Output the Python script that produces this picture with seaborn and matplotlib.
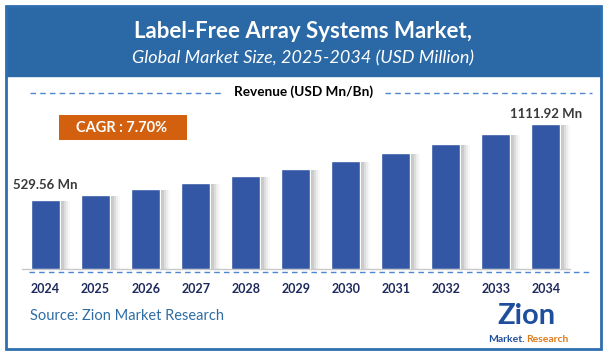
import matplotlib
matplotlib.use("Agg")
import matplotlib.pyplot as plt
from matplotlib.patches import Rectangle
from matplotlib.lines import Line2D
import seaborn as sns
import pandas as pd

# dane
years = ["2024", "2025", "2026", "2027", "2028", "2029", "2030", "2031", "2032", "2033", "2034"]
revenue = [529.56, 570.3, 614.3, 661.6, 712.5, 767.4, 826.5, 890.1, 958.6, 1032.5, 1111.92]
first_label = "529.56 Mn"
last_label = "1111.92 Mn"
cagr_text = "CAGR : 7.70%"

df = pd.DataFrame({"Year": years, "Revenue": revenue})

sns.set_theme(style="white")
plt.rcParams["font.family"] = ["Lato", "DejaVu Sans"]

W, H = 606, 357
fig = plt.figure(figsize=(W / 100, H / 100), dpi=100)
fig.patch.set_facecolor("white")

def fx(px):
    return px / W

def fy(py):
    return 1 - py / H

# ramka i nagłówek
fig.patches.append(Rectangle((fx(6), fy(349)), fx(595), 343 / H, transform=fig.transFigure,
                             facecolor="none", edgecolor="#2E6EB0", linewidth=2, zorder=5))
fig.patches.append(Rectangle((fx(6), fy(76)), fx(595), 70 / H, transform=fig.transFigure,
                             facecolor="#2B69A6", edgecolor="#2B69A6", linewidth=1, zorder=1))
fig.text(0.5, fy(31), "Label-Free Array Systems Market,", ha="center", va="center",
         color="white", fontsize=16, fontweight="bold")
fig.text(0.5, fy(58), "Global Market Size, 2025-2034 (USD Million)", ha="center", va="center",
         color="white", fontsize=13, style="italic")

ax = fig.add_axes([fx(22), fy(269), fx(570) - fx(22), (269 - 100) / H])
ax.set_facecolor("none")
sns.barplot(data=df, x="Year", y="Revenue", order=years, color="#3356A5", saturation=1,
            width=0.58, ax=ax, zorder=3)

# cień za słupkami
for p in list(ax.patches):
    x0 = p.get_x() + p.get_width()
    h = p.get_height()
    for i, a in enumerate([0.4, 0.3, 0.2, 0.1, 0.04]):
        ax.add_patch(Rectangle((x0 + i * 0.04, 0), 0.04, h - 8, facecolor="#555555",
                               alpha=a, edgecolor="none", zorder=2))

ax.set_xlim(-0.47, 10.48)
ax.set_ylim(0, 1296)
ax.set_xlabel("")
ax.set_ylabel("")
ax.set_yticks([])
for s in ["top", "left", "right"]:
    ax.spines[s].set_visible(False)
ax.spines["bottom"].set_color("#C8C8C8")
ax.spines["bottom"].set_linewidth(1)
ax.tick_params(axis="x", length=0, pad=10)
for t in ax.get_xticklabels():
    t.set_fontweight("bold")
    t.set_color("#1F2A5C")
    t.set_fontsize(9)

ax.text(0, revenue[0] + 70, first_label, ha="center", va="bottom", fontsize=9.5,
        fontweight="bold", color="#3A3A3A")
ax.text(10, revenue[-1] + 30, last_label, ha="center", va="bottom", fontsize=9.5,
        fontweight="bold", color="#3A3A3A")

# linie przerywane
dash_kw = dict(transform=fig.transFigure, color="#4F86D0", linewidth=1, linestyle=(0, (4, 3)), zorder=4)
fig.lines.append(Line2D([fx(30), fx(223)], [fy(93), fy(93)], **dash_kw))
fig.lines.append(Line2D([fx(385), fx(592)], [fy(93), fy(93)], **dash_kw))
fig.lines.append(Line2D([fx(29), fx(592)], [fy(271.5), fy(271.5)], **dash_kw))
fig.text(fx(304), fy(92), "Revenue (USD Mn/Bn)", ha="center", va="center", fontsize=9.8,
         fontweight="bold", color="black")

# CAGR
fig.patches.append(Rectangle((fx(59), fy(140)), fx(187) - fx(59), 25 / H, transform=fig.transFigure,
                             facecolor="#D2600F", edgecolor="none", zorder=2))
fig.text(fx(122), fy(128), cagr_text, ha="center", va="center", fontsize=10.5,
         fontweight="bold", color="white", zorder=3)

fig.text(fx(30), fy(316), "Source: Zion Market Research", ha="left", va="center",
         fontsize=10.5, color="#2E6DA4")

# logo
fig.text(fx(526), fy(316), "Zion", ha="center", va="center", fontsize=21, fontweight="bold",
         color="#1F4F9C")
fig.text(fx(525), fy(340), "Market.", ha="right", va="center", fontsize=7.5,
         fontweight="bold", color="#1F4F9C")
fig.text(fx(526), fy(340), "Research", ha="left", va="center", fontsize=7.5,
         fontweight="bold", color="#E07B1A")

fig.savefig("out.png", dpi=100)
